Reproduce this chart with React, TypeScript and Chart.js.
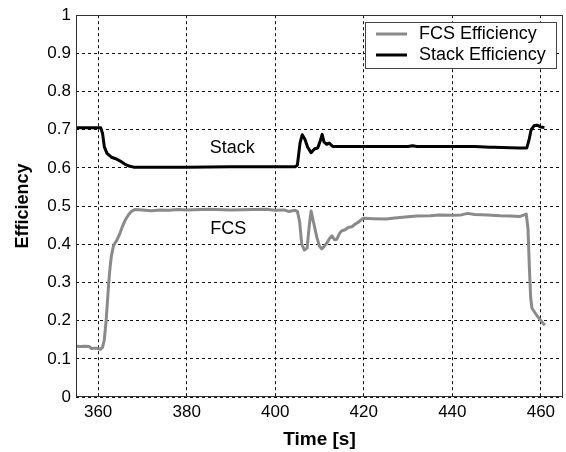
import React, { useEffect, useRef } from "react";
import { Chart, registerables } from "chart.js";

Chart.register(...registerables);

const FONT = '"Liberation Sans", Arial, Helvetica, sans-serif';

const xTicks = [360, 380, 400, 420, 440, 460];
const xMin = 355;
const xMax = 465;

const seriesLabels = ["FCS Efficiency", "Stack Efficiency"];
const seriesColors = ["#8a8a8a", "#000000"];

const fcsTime = [
  355, 356, 357, 358, 358.5, 359.5, 360.5, 361.0, 361.4, 361.8, 362.1, 362.4, 362.7, 363.0, 363.5,
  364.2, 364.8, 365.5, 366.2, 366.9, 367.6, 368.3, 370, 372, 374, 376, 378, 380, 385, 390, 395,
  398, 400, 402, 403, 404.5, 405.0, 405.5, 406.0, 406.6, 407.2, 407.7, 408.1, 408.7, 409.4, 410.0,
  410.5, 411.1, 411.7, 412.3, 412.8, 413.4, 413.9, 414.5, 415.0, 415.8, 416.5, 417.3, 418.1, 418.8,
  419.6, 420.3, 422, 425, 427, 430, 432, 435, 437, 440, 442, 443.5, 445, 448, 450.8, 453, 455.3,
  456.7, 457.1, 457.4, 457.7, 458.0, 458.6, 459.2, 460.0, 460.9,
];
const fcsEff = [
  0.133, 0.132, 0.133, 0.132, 0.127, 0.128, 0.125, 0.13, 0.15, 0.2, 0.25, 0.3, 0.34, 0.37, 0.398,
  0.41, 0.425, 0.447, 0.465, 0.478, 0.487, 0.491, 0.49, 0.488, 0.49, 0.489, 0.491, 0.49, 0.492, 0.49,
  0.491, 0.492, 0.489, 0.49, 0.486, 0.489, 0.486, 0.46, 0.4, 0.385, 0.39, 0.45, 0.487, 0.455, 0.418,
  0.395, 0.388, 0.395, 0.404, 0.416, 0.422, 0.412, 0.413, 0.428, 0.435, 0.438, 0.444, 0.446, 0.453,
  0.458, 0.466, 0.468, 0.467, 0.466, 0.469, 0.472, 0.474, 0.475, 0.477, 0.476, 0.477, 0.481, 0.478,
  0.477, 0.475, 0.474, 0.473, 0.479, 0.44, 0.34, 0.26, 0.232, 0.222, 0.212, 0.2, 0.188,
];

const stackTime = [
  355, 360.6, 361.0, 361.4, 362.0, 363.0, 364.0, 365.0, 366.0, 367.0, 368.0, 380, 390, 400, 404.5,
  405.0, 405.6, 406.1, 406.7, 407.3, 408.1, 408.9, 409.6, 410.2, 410.6, 411.0, 411.6, 412.2, 413.0,
  420, 430, 431, 432, 445, 448.6, 449.5, 455, 456.8, 457.3, 457.8, 458.5, 459.2, 460.0, 460.8,
];
const stackEff = [
  0.705, 0.705, 0.69, 0.655, 0.638, 0.628, 0.624, 0.618, 0.61, 0.605, 0.602, 0.602, 0.603, 0.603,
  0.603, 0.607, 0.665, 0.687, 0.675, 0.655, 0.64, 0.65, 0.652, 0.672, 0.688, 0.668, 0.662, 0.665,
  0.656, 0.656, 0.656, 0.658, 0.656, 0.656, 0.654, 0.654, 0.652, 0.652, 0.672, 0.7, 0.711, 0.712,
  0.707, 0.706,
];

const annotationLabels = ["Stack", "FCS"];
const annotationX = [390.3, 389.4];
const annotationY = [0.653, 0.44];

const overlay = {
  id: "overlay",
  afterDatasetsDraw(chart: any) {
    const { ctx, chartArea, scales } = chart;
    const { left, top, right, bottom } = chartArea;
    const x = scales.x;
    const y = scales.y;
    ctx.save();
    // annotations
    ctx.font = `18px ${FONT}`;
    ctx.fillStyle = "#000";
    ctx.textAlign = "center";
    ctx.textBaseline = "middle";
    annotationLabels.forEach((t, i) => {
      ctx.fillText(t, x.getPixelForValue(annotationX[i]), y.getPixelForValue(annotationY[i]));
    });
    // frame
    ctx.strokeStyle = "#333";
    ctx.lineWidth = 1;
    ctx.setLineDash([]);
    ctx.strokeRect(Math.round(left) + 0.5, Math.round(top) + 0.5, Math.round(right - left) - 1, Math.round(bottom - top) - 1);
    // legend
    const bw = 191;
    const bh = 46;
    const bx = Math.round(right) - 7 - bw;
    const by = Math.round(top) + 7;
    ctx.fillStyle = "#fff";
    ctx.fillRect(bx, by, bw, bh);
    ctx.strokeStyle = "#444";
    ctx.strokeRect(bx + 0.5, by + 0.5, bw, bh);
    ctx.font = `18px ${FONT}`;
    ctx.textAlign = "left";
    ctx.textBaseline = "middle";
    seriesLabels.forEach((lab, i) => {
      const cy = by + 12 + i * 21;
      ctx.strokeStyle = seriesColors[i];
      ctx.lineWidth = 3;
      ctx.beginPath();
      ctx.moveTo(bx + 11, cy);
      ctx.lineTo(bx + 42, cy);
      ctx.stroke();
      ctx.fillStyle = "#000";
      ctx.fillText(lab, bx + 54, cy);
    });
    ctx.restore();
  },
};

export default function App() {
  const ref = useRef<HTMLCanvasElement | null>(null);
  useEffect(() => {
    if (!ref.current) return;
    const chart = new Chart(ref.current, {
      type: "line",
      data: {
        datasets: [
          {
            label: seriesLabels[0],
            data: fcsTime.map((t, i) => ({ x: t, y: fcsEff[i] })),
            borderColor: seriesColors[0],
            backgroundColor: seriesColors[0],
            borderWidth: 3,
            pointRadius: 0,
            tension: 0,
            borderJoinStyle: "round",
          },
          {
            label: seriesLabels[1],
            data: stackTime.map((t, i) => ({ x: t, y: stackEff[i] })),
            borderColor: seriesColors[1],
            backgroundColor: seriesColors[1],
            borderWidth: 3,
            pointRadius: 0,
            tension: 0,
            borderJoinStyle: "round",
          },
        ],
      },
      options: {
        animation: false,
        responsive: false,
        devicePixelRatio: 1,
        layout: { padding: { top: 14, right: 3, left: 0, bottom: 0 } },
        plugins: { legend: { display: false }, tooltip: { enabled: false } },
        scales: {
          x: {
            type: "linear",
            min: xMin,
            max: xMax,
            afterBuildTicks: (s: any) => {
              s.ticks = xTicks.map((v) => ({ value: v }));
            },
            afterFit: (s: any) => {
              s.height = 55;
            },
            grid: { color: "#111", lineWidth: 1, drawTicks: false },
            border: { display: false, dash: [3, 3] },
            ticks: { color: "#000", padding: 5, font: { family: FONT, size: 17 }, maxRotation: 0 },
            title: {
              display: true,
              text: "Time [s]",
              color: "#000",
              font: { family: FONT, size: 19, weight: "bold" },
              padding: { top: 0, bottom: 1 },
            },
          },
          y: {
            type: "linear",
            min: 0,
            max: 1,
            ticks: {
              stepSize: 0.1,
              color: "#000",
              padding: 5,
              font: { family: FONT, size: 17 },
              callback: (v: any) => String(Number(Number(v).toFixed(1))),
            },
            afterFit: (s: any) => {
              s.width = 76;
            },
            grid: { color: "#111", lineWidth: 1, drawTicks: false },
            border: { display: false, dash: [3, 3] },
            title: {
              display: true,
              text: "Efficiency",
              color: "#000",
              font: { family: FONT, size: 18, weight: "bold" },
              padding: { top: 12, bottom: 0 },
            },
          },
        },
      },
      plugins: [overlay],
    });
    return () => chart.destroy();
  }, []);
  return (
    <div style={{ position: "absolute", left: 0, top: 0, width: 566, height: 452, background: "#fff" }}>
      <canvas ref={ref} width={566} height={452} style={{ width: 566, height: 452, display: "block" }} />
    </div>
  );
}
